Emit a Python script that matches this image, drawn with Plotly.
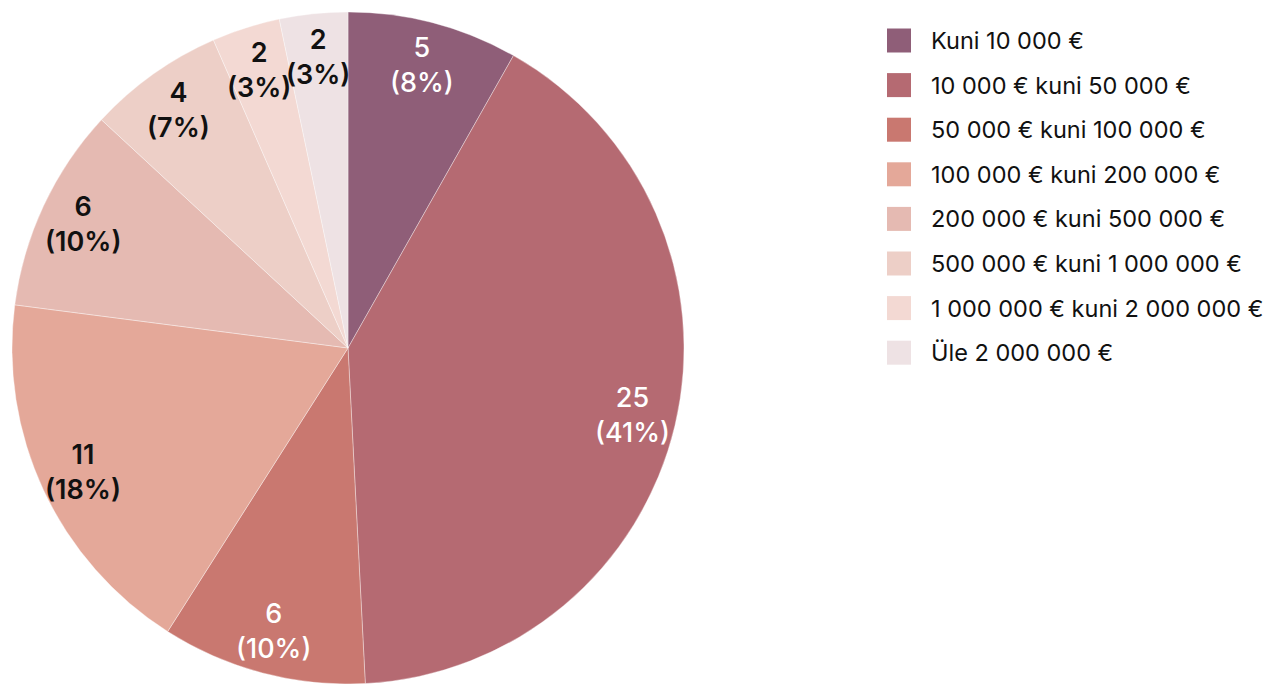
import math
import plotly.graph_objects as go

categories = ["Kuni 10 000 €", "10 000 € kuni 50 000 €", "50 000 € kuni 100 000 €",
              "100 000 € kuni 200 000 €", "200 000 € kuni 500 000 €",
              "500 000 € kuni 1 000 000 €", "1 000 000 € kuni 2 000 000 €", "Üle 2 000 000 €"]
values = [5, 25, 6, 11, 6, 4, 2, 2]
colors = ["#8F5E78", "#B56A72", "#C97870", "#E4A899", "#E5BAB2", "#EDCFC7", "#F3D9D3", "#EEE2E4"]
label_colors = ["white", "white", "white", "#111111", "#111111", "#111111", "#111111", "#111111"]
label_weights = [500, 500, 500, 600, 600, 600, 600, 600]

W, H = 1265, 684
ML, MR, MT, MB = 12, 0, 12, 0
PW, PH = W - ML - MR, H - MT - MB
R = PH / 2
CX, CY = ML + R, MT + R

fig = go.Figure()
fig.add_trace(go.Pie(
    labels=categories, values=values, sort=False, direction="clockwise", rotation=0,
    marker=dict(colors=colors, line=dict(color="rgba(255,255,255,0.6)", width=0.6)),
    textinfo="none", hoverinfo="label+value+percent", showlegend=False,
    domain=dict(x=[0, 2 * R / PW], y=[0, 1]),
))

total = sum(values)
cum = 0
annotations = []
for v, c, wgt in zip(values, label_colors, label_weights):
    mid = (cum + v / 2) / total * 2 * math.pi
    cum += v
    rr = 0.87 * R
    px = CX + rr * math.sin(mid)
    py = CY - rr * math.cos(mid)
    annotations.append(dict(
        x=(px - ML) / PW, y=1 - (py - MT) / PH, xref="paper", yref="paper",
        text=f"{v}<br>({round(100 * v / total)}%)", showarrow=False,
        font=dict(family="Inter", size=27, color=c, weight=wgt),
        xanchor="center", yanchor="middle", align="center",
    ))

shapes = []
LX0, LX1 = 887, 911
for i, (cat, col) in enumerate(zip(categories, colors)):
    cy = 40.5 + i * 44.6
    shapes.append(dict(type="rect", xref="paper", yref="paper",
                       x0=(LX0 - ML) / PW, x1=(LX1 - ML) / PW,
                       y0=1 - (cy - 12 - MT) / PH, y1=1 - (cy + 12 - MT) / PH,
                       fillcolor=col, line=dict(width=0)))
    annotations.append(dict(x=(929 - ML) / PW, y=1 - (cy - MT) / PH, xref="paper", yref="paper",
                            text=cat, showarrow=False, xanchor="left", yanchor="middle",
                            font=dict(family="Inter", size=23.5, color="#111111")))

fig.update_layout(
    width=W, height=H, margin=dict(l=ML, r=MR, t=MT, b=MB),
    paper_bgcolor="white", plot_bgcolor="white",
    annotations=annotations, shapes=shapes, showlegend=False,
)
fig.write_html("out.html", config={"displayModeBar": False},
               post_script="document.body.style.margin='0';document.body.style.overflow='hidden';")
